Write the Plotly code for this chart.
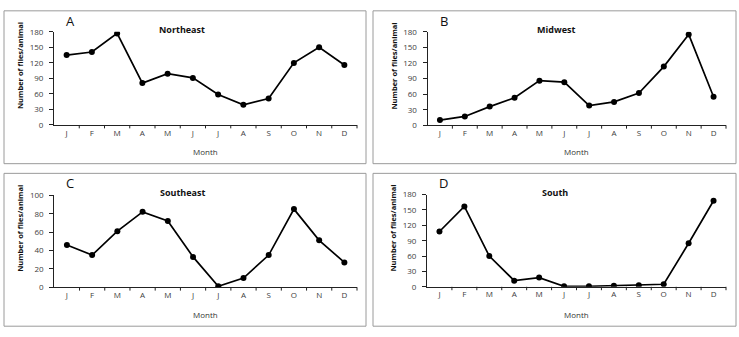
import plotly.graph_objects as go

months = ["J", "F", "M", "A", "M", "J", "J", "A", "S", "O", "N", "D"]
northeast = [135, 141, 177, 81, 99, 91, 59, 39, 51, 120, 150, 116]
midwest = [10, 17, 36, 53, 86, 83, 38, 45, 62, 113, 175, 55]
southeast = [46, 35, 61, 82, 72, 33, 1, 10, 35, 85, 51, 27]
south = [108, 157, 60, 12, 18, 1, 1, 2, 3, 5, 85, 168]

W, H = 739, 337
panels = [
    ("Northeast", "A", northeast, 180, 30, 54, 357, 26.7, 123, (4, 5, 366, 163)),
    ("Midwest", "B", midwest, 180, 30, 427.5, 726, 26.7, 123.3, (373, 5, 736, 163)),
    ("Southeast", "C", southeast, 100, 20, 54.3, 357, 195.7, 290.7, (4, 173, 366, 331)),
    ("South", "D", south, 180, 30, 427, 726, 195, 290.3, (373, 173, 736, 331)),
]

fig = go.Figure()
xpos = list(range(12))
annotations = []
shapes = []
font = "Open Sans, Liberation Sans, Arial, sans-serif"

for i, (name, letter, vals, ymax, dt, x0, x1, yt, y0, box) in enumerate(panels):
    sfx = "" if i == 0 else str(i + 1)
    fig.add_trace(go.Scatter(
        x=xpos, y=vals, mode="lines+markers",
        line=dict(color="black", width=1.7),
        marker=dict(color="black", size=6),
        xaxis="x" + sfx, yaxis="y" + sfx, showlegend=False,
    ))
    fig.layout["xaxis" + sfx] = dict(
        domain=[x0 / W, x1 / W], anchor="y" + sfx,
        range=[-0.5, 11.5], tickmode="array", tickvals=xpos, ticktext=months,
        showgrid=False, zeroline=False, showline=True, linecolor="#222", linewidth=1,
        ticks="", tickfont=dict(size=8, color="#404040", family=font),
    )
    fig.layout["yaxis" + sfx] = dict(
        domain=[1 - y0 / H, 1 - yt / H], anchor="x" + sfx,
        range=[0, ymax], dtick=dt, tick0=0,
        showgrid=False, zeroline=False, showline=True, linecolor="#222", linewidth=1,
        ticks="outside", ticklen=4, tickcolor="#222", ticklabelstandoff=4,
        tickfont=dict(size=8, color="#404040", family=font),
    )
    step = (x1 - x0) / 12
    for k in range(1, 13):
        xp = (x0 + k * step) / W
        shapes.append(dict(type="line", xref="paper", yref="paper",
                           x0=xp, x1=xp, y0=1 - y0 / H, y1=1 - (y0 + 3.5) / H,
                           line=dict(color="#222", width=1)))
    bx0, by0, bx1, by1 = box
    shapes.append(dict(type="rect", xref="paper", yref="paper",
                       x0=bx0 / W, x1=bx1 / W, y0=1 - by1 / H, y1=1 - by0 / H,
                       line=dict(color="#9a9a9a", width=1)))
    cx = (x0 + x1) / 2
    annotations.append(dict(text="<b>" + name + "</b>", x=(x0 + 128) / W, y=1 - (by0 + 19.5) / H,
                            xref="paper", yref="paper", showarrow=False,
                            xanchor="center", yanchor="middle",
                            font=dict(size=9, color="#111", family=font)))
    annotations.append(dict(text=letter, x=(x0 + 16) / W, y=1 - (by0 + 10) / H,
                            xref="paper", yref="paper", showarrow=False,
                            xanchor="center", yanchor="middle",
                            font=dict(size=13, color="#111", family=font)))
    annotations.append(dict(text="Month", x=(cx) / W, y=1 - (by0 + 145.5) / H,
                            xref="paper", yref="paper", showarrow=False,
                            xanchor="center", yanchor="middle",
                            font=dict(size=8, color="#333", family=font)))
    annotations.append(dict(text="<b>Number of flies/animal</b>", x=(x0 - 34) / W,
                            y=1 - (by0 + 57) / H,
                            xref="paper", yref="paper", showarrow=False, textangle=-90,
                            xanchor="center", yanchor="middle",
                            font=dict(size=7.5, color="#111", family=font)))

fig.update_layout(
    width=W, height=H, margin=dict(l=0, r=0, t=0, b=0),
    paper_bgcolor="white", plot_bgcolor="white",
    annotations=annotations, shapes=shapes,
)
fig.write_html("out.html")
